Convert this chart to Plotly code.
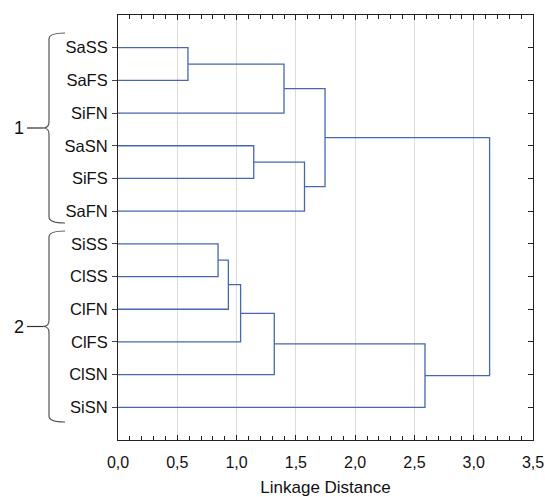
import plotly.graph_objects as go

# ---- data ----
leaves = ["SaSS", "SaFS", "SiFN", "SaSN", "SiFS", "SaFN",
          "SiSS", "ClSS", "ClFN", "ClFS", "ClSN", "SiSN"]
# merges: (child_a, child_b, linkage distance); children are leaf names or merge ids "m#"
merge_a = ["SaSS", "m0", "SaSN", "m2", "m1", "SiSS", "m5", "m6", "m7", "m8", "m4"]
merge_b = ["SaFS", "SiFN", "SiFS", "SaFN", "m3", "ClSS", "ClFN", "ClFS", "ClSN", "SiSN", "m9"]
merge_h = [0.59, 1.40, 1.145, 1.573, 1.746, 0.844, 0.931, 1.034, 1.318, 2.589, 3.134]
x_tick_vals = [0, 0.5, 1.0, 1.5, 2.0, 2.5, 3.0, 3.5]
x_tick_labels = ["0,0", "0,5", "1,0", "1,5", "2,0", "2,5", "3,0", "3,5"]
group_labels = ["1", "2"]

# ---- build dendrogram segments ----
pos = {name: (0.0, i) for i, name in enumerate(leaves)}
xs, ys = [], []
for k, (a, b, h) in enumerate(zip(merge_a, merge_b, merge_h)):
    xa, ya = pos[a]
    xb, yb = pos[b]
    xs += [xa, h, h, xb, None]
    ys += [ya, ya, yb, yb, None]
    pos["m%d" % k] = (h, (ya + yb) / 2)

line_color = "#4767b0"
fig = go.Figure()
fig.add_trace(go.Scatter(x=xs, y=ys, mode="lines",
                         line=dict(color=line_color, width=1.3),
                         hoverinfo="skip", showlegend=False))
# invisible trace for right-hand axis
fig.add_trace(go.Scatter(x=[None], y=[None], yaxis="y2", showlegend=False))

FW, FH = 545, 497
ML, MR, MT, MB = 118, 12, 15, 57
font_family = "Liberation Sans, Arial, sans-serif"
fig.update_layout(
    width=FW, height=FH,
    margin=dict(l=ML, r=MR, t=MT, b=MB, autoexpand=False),
    paper_bgcolor="white", plot_bgcolor="white",
    font=dict(family=font_family, color="#111111", size=16),
    xaxis=dict(range=[0, 3.5], tickvals=x_tick_vals, ticktext=x_tick_labels,
               automargin=False,
               showgrid=True, gridcolor="#dcdcdc", gridwidth=1,
               zeroline=False, showline=True, linecolor="#222222", linewidth=1,
               mirror="ticks", ticks="inside", ticklen=5, tickcolor="#222222",
               minor=dict(dtick=0.1, ticks="inside", ticklen=4, tickcolor="#222222",
                          showgrid=False),
               tickfont=dict(size=16), ticklabelstandoff=8,
               title=dict(text="Linkage Distance", font=dict(size=17), standoff=12)),
    yaxis=dict(range=[12, -1], tickvals=list(range(len(leaves))), ticktext=leaves,
               automargin=False,
               showgrid=False, zeroline=False, showline=True, linecolor="#222222",
               linewidth=1, mirror=True, ticks="outside", ticklen=5,
               tickcolor="#444444", ticklabelstandoff=1,
               tickfont=dict(size=16.5)),
    yaxis2=dict(range=[12, -1], overlaying="y", side="right", showgrid=False,
                automargin=False,
                zeroline=False, showline=False, tickvals=list(range(len(leaves))),
                showticklabels=False, ticks="inside", ticklen=5, tickcolor="#222222"),
)

# ---- group braces (pixel positions converted to paper coords) ----
W, H = FW - ML - MR, FH - MT - MB
def px(x):
    return (x - ML) / W
def py(y):
    return (FH - MB - y) / H

brace_ranges = [(33, 223), (231, 422)]
for label, (top, bot) in zip(group_labels, brace_ranges):
    mid = (top + bot) / 2
    xt, xs_, xm = 65, 49, 43
    pts = (
        f"M {px(xt)},{py(top)} "
        f"Q {px(xs_)},{py(top)} {px(xs_)},{py(top + 6)} "
        f"L {px(xs_)},{py(mid - 6)} "
        f"Q {px(xs_)},{py(mid)} {px(xm)},{py(mid)} "
        f"Q {px(xs_)},{py(mid)} {px(xs_)},{py(mid + 6)} "
        f"L {px(xs_)},{py(bot - 6)} "
        f"Q {px(xs_)},{py(bot)} {px(xt)},{py(bot)}"
    )
    fig.add_shape(type="path", path=pts, xref="paper", yref="paper",
                  line=dict(color="#555555", width=1.2))
    fig.add_shape(type="line", xref="paper", yref="paper",
                  x0=px(27), x1=px(43), y0=py(mid), y1=py(mid),
                  line=dict(color="#333333", width=1.2))
    fig.add_annotation(text=label, xref="paper", yref="paper",
                       x=px(18.5), y=py(mid), xanchor="center", yanchor="middle",
                       showarrow=False, font=dict(size=18, color="#111111"))

fig.write_html("out.html", config={"displayModeBar": False},
               post_script="document.body.style.margin='0px';document.body.style.overflow='hidden';")
